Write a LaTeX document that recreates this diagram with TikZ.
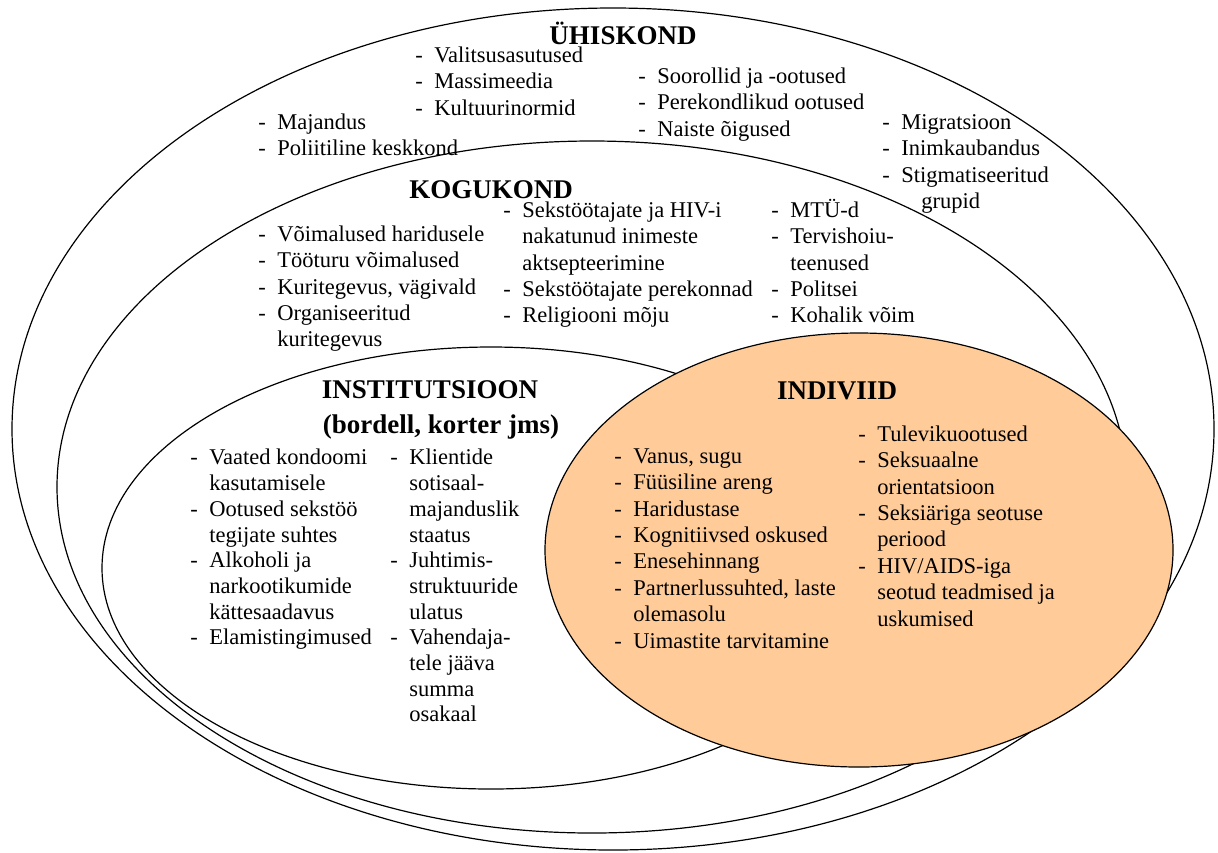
\documentclass[tikz,border=0pt]{standalone}
\usepackage{fontspec}
\setmainfont{Liberation Serif}
\usepackage{tikz}
\usetikzlibrary{positioning}

\definecolor{indfill}{HTML}{FFCC99}

\newcommand{\itm}[1]{\strut\makebox[9.5pt][l]{-}#1}
\newcommand{\ctn}[1]{\strut\hspace*{9.5pt}#1}

\begin{document}
\begin{tikzpicture}[
  x=0.5pt, y=-0.5pt,
  ring/.style={draw, line width=0.6pt},
  lst/.style={
    anchor=north west, inner sep=0pt, align=left,
    font=\fontsize{11.25}{13.2}\selectfont
  },
  lstnarrow/.style={lst, font=\fontsize{11.25}{12.85}\selectfont},
  hdr/.style={inner sep=0pt, font=\fontsize{13.5}{16}\selectfont\bfseries}
]
\useasboundingbox (0,0) rectangle (1218,852);

% Ellipses
\draw[ring] (613,429) ellipse [x radius=300.5pt, y radius=210.5pt];
\draw[ring] (592,487) ellipse [x radius=267.5pt, y radius=173pt];
\draw[ring] (491,568) ellipse [x radius=194.5pt, y radius=110.5pt];
\draw[ring, fill=indfill] (859,550) ellipse [x radius=157pt, y radius=108.5pt];

% Headings
\node[hdr] (Uhiskond) at (623,33) {ÜHISKOND};
\node[hdr] (Kogukond) at (491,190) {KOGUKOND};
\node[hdr] (Institutsioon) at (430,390) {INSTITUTSIOON};
\node[hdr, below=7.5pt of Institutsioon, xshift=5.5pt] (Institutsioon_sub) {(bordell, korter jms)};
\node[hdr] (Indiviid) at (837,391) {INDIVIID};

% Uhiskond
\node[lst] (Uhiskond_1) at (415,43.5) {
  \itm{Valitsusasutused}\\
  \itm{Massimeedia}\\
  \itm{Kultuurinormid}
};
\node[lst] (Uhiskond_2) at (258,110.5) {
  \itm{Majandus}\\
  \itm{Poliitiline keskkond}
};
\node[lst] (Uhiskond_3) at (638,64.5) {
  \itm{Soorollid ja -ootused}\\
  \itm{Perekondlikud ootused}\\
  \itm{Naiste õigused}
};
\node[lst] (Uhiskond_4) at (882,110.5) {
  \itm{Migratsioon}\\
  \itm{Inimkaubandus}\\
  \itm{Stigmatiseeritud}\\
  \ctn{\hspace*{10pt}grupid}
};

% Kogukond
\node[lst] (Kogukond_1) at (258,222.5) {
  \itm{Võimalused haridusele}\\
  \itm{Tööturu võimalused}\\
  \itm{Kuritegevus, vägivald}\\
  \itm{Organiseeritud}\\
  \ctn{kuritegevus}
};
\node[lst] (Kogukond_2) at (503,198.5) {
  \itm{Sekstöötajate ja HIV-i}\\
  \ctn{nakatunud inimeste}\\
  \ctn{aktsepteerimine}\\
  \itm{Sekstöötajate perekonnad}\\
  \itm{Religiooni mõju}
};
\node[lst] (Kogukond_3) at (771,198.5) {
  \itm{MTÜ-d}\\
  \itm{Tervishoiu-}\\
  \ctn{teenused}\\
  \itm{Politsei}\\
  \itm{Kohalik võim}
};

% Institutsioon
\node[lstnarrow] (Institutsioon_1) at (190,446.5) {
  \itm{Vaated kondoomi}\\
  \ctn{kasutamisele}\\
  \itm{Ootused sekstöö}\\
  \ctn{tegijate suhtes}\\
  \itm{Alkoholi ja}\\
  \ctn{narkootikumide}\\
  \ctn{kättesaadavus}\\
  \itm{Elamistingimused}
};
\node[lstnarrow] (Institutsioon_2) at (390,446.5) {
  \itm{Klientide}\\
  \ctn{sotisaal-}\\
  \ctn{majanduslik}\\
  \ctn{staatus}\\
  \itm{Juhtimis-}\\
  \ctn{struktuuride}\\
  \ctn{ulatus}\\
  \itm{Vahendaja-}\\
  \ctn{tele jääva}\\
  \ctn{summa}\\
  \ctn{osakaal}
};

% Indiviid
\node[lst] (Indiviid_1) at (614,444.5) {
  \itm{Vanus, sugu}\\
  \itm{Füüsiline areng}\\
  \itm{Haridustase}\\
  \itm{Kognitiivsed oskused}\\
  \itm{Enesehinnang}\\
  \itm{Partnerlussuhted, laste}\\
  \ctn{olemasolu}\\
  \itm{Uimastite tarvitamine}
};
\node[lst] (Indiviid_2) at (858,422.5) {
  \itm{Tulevikuootused}\\
  \itm{Seksuaalne}\\
  \ctn{orientatsioon}\\
  \itm{Seksiäriga seotuse}\\
  \ctn{periood}\\
  \itm{HIV/AIDS-iga}\\
  \ctn{seotud teadmised ja}\\
  \ctn{uskumised}
};

\end{tikzpicture}
\end{document}
